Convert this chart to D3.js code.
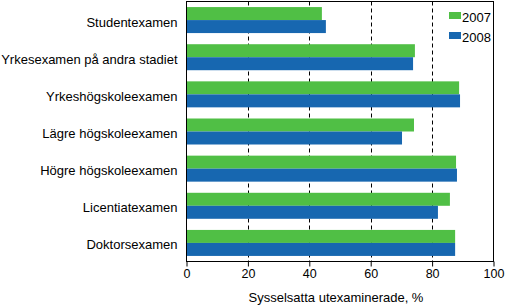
<!DOCTYPE html>
<html>
<head>
<meta charset="utf-8">
<script src="https://cdn.jsdelivr.net/npm/d3@7"></script>
<style>
  body { margin: 0; background: #fff; }
  svg { display: block; font-family: 'Liberation Sans', Arial, sans-serif; }
</style>
</head>
<body>
<div id="chart"></div>
<script>
const categories = [
  'Studentexamen',
  'Yrkesexamen på andra stadiet',
  'Yrkeshögskoleexamen',
  'Lägre högskoleexamen',
  'Högre högskoleexamen',
  'Licentiatexamen',
  'Doktorsexamen',
];
const years = ['2007', '2008'];
const values2007 = [44.1, 74.4, 88.8, 74.1, 87.8, 85.8, 87.5];
const values2008 = [45.4, 73.8, 89.1, 70.2, 88.1, 81.9, 87.5];
const xTicks = [0, 20, 40, 60, 80, 100];
const gridTicks = [20, 40, 60, 80];
const axisTitle = 'Sysselsatta utexaminerade, %';

const width = 505;
const height = 305;
const margin = { top: 1.5, right: 11.5, bottom: 43.5, left: 186.5 };

const series = years.map((year, i) => ({
  year,
  values: i === 0 ? values2007 : values2008,
}));

const x = d3
  .scaleLinear()
  .domain([0, 100])
  .range([margin.left, width - margin.right]);

const y = d3
  .scaleBand()
  .domain(categories)
  .range([margin.top, height - margin.bottom])
  .paddingInner(0.3)
  .paddingOuter(0.15);

const ySub = d3.scaleBand().domain(years).range([0, y.bandwidth()]);

const color = d3.scaleOrdinal().domain(years).range(['#50bf45', '#1767b0']);

const svg = d3
  .select('#chart')
  .append('svg')
  .attr('width', width)
  .attr('height', height);

// dashed grid lines behind the bars
svg
  .append('g')
  .selectAll('line')
  .data(gridTicks)
  .join('line')
  .attr('x1', (d) => Math.round(x(d)) + 0.5)
  .attr('x2', (d) => Math.round(x(d)) + 0.5)
  .attr('y1', margin.top)
  .attr('y2', height - margin.bottom)
  .attr('stroke', '#000')
  .attr('stroke-dasharray', '4,3');

// bars
svg
  .append('g')
  .selectAll('g')
  .data(series)
  .join('g')
  .attr('fill', (d) => color(d.year))
  .selectAll('rect')
  .data((s) => s.values.map((v, i) => ({ year: s.year, cat: categories[i], v })))
  .join('rect')
  .attr('x', x(0))
  .attr('y', (d) => y(d.cat) + ySub(d.year))
  .attr('width', (d) => x(d.v) - x(0))
  .attr('height', ySub.bandwidth());

// frame
svg
  .append('rect')
  .attr('x', margin.left)
  .attr('y', margin.top)
  .attr('width', width - margin.right - margin.left)
  .attr('height', height - margin.bottom - margin.top)
  .attr('fill', 'none')
  .attr('stroke', '#000');

// x axis
const xAxis = svg
  .append('g')
  .attr('transform', `translate(0,${height - margin.bottom})`)
  .call(d3.axisBottom(x).tickValues(xTicks).tickSize(5).tickPadding(3).tickFormat(d3.format('d')));
xAxis.select('.domain').remove();
xAxis.selectAll('.tick line').attr('stroke', '#000');
xAxis
  .selectAll('.tick text')
  .attr('fill', '#000')
  .attr('font-size', 12.5)
  .attr('font-family', null);

// category labels
svg
  .append('g')
  .selectAll('text')
  .data(categories)
  .join('text')
  .attr('x', margin.left - 9)
  .attr('y', (d) => y(d) + y.bandwidth() / 2 + 6.5)
  .attr('text-anchor', 'end')
  .attr('font-size', 13)
  .text((d) => d);

svg
  .append('text')
  .attr('x', 336)
  .attr('y', 302)
  .attr('text-anchor', 'middle')
  .attr('font-size', 13)
  .text(axisTitle);

// legend
const legend = svg
  .append('g')
  .selectAll('g')
  .data(years)
  .join('g')
  .attr('transform', (d, i) => `translate(449,${12 + i * 20})`);
legend
  .append('rect')
  .attr('width', 12)
  .attr('height', 7)
  .attr('fill', (d) => color(d));
legend
  .append('text')
  .attr('x', 13)
  .attr('y', 9.5)
  .attr('font-size', 13)
  .text((d) => d);
</script>
</body>
</html>
